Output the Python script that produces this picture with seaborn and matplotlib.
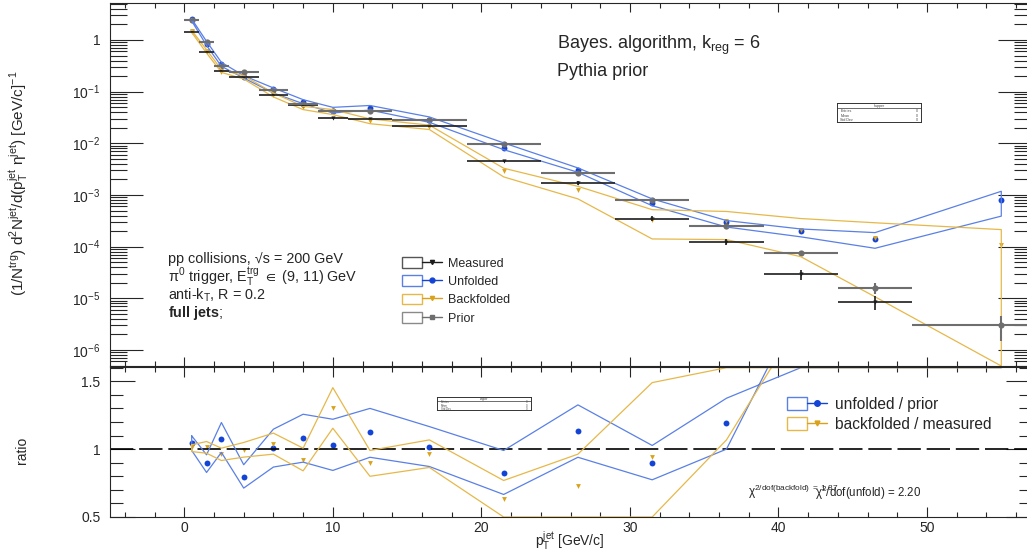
import numpy as np
import matplotlib
matplotlib.use("Agg")
import matplotlib.pyplot as plt
import seaborn as sns
from matplotlib.lines import Line2D
from matplotlib.patches import Rectangle
from matplotlib.legend_handler import HandlerTuple
from matplotlib.ticker import MultipleLocator, LogLocator, FuncFormatter, NullFormatter

# binning (GeV/c)
bin_edges = [0, 1, 2, 3, 5, 7, 9, 11, 14, 19, 24, 29, 34, 39, 44, 49, 61]
pt = [0.5, 1.5, 2.5, 4, 6, 8, 10, 12.5, 16.5, 21.5, 26.5, 31.5, 36.5, 41.5, 46.5, 55]

# spectra (upper panel)
measured = [1.45, 0.59, 0.255, 0.19, 0.0875, 0.054, 0.031, 0.030, 0.0213,
            4.57e-3, 1.73e-3, 3.5e-4, 1.24e-4, 2.9e-5, 8.4e-6, np.nan]
measured_err = [0.03, 0.012, 0.006, 0.004, 0.002, 0.0013, 0.0008, 0.0007, 0.0005,
                2.5e-4, 1.5e-4, 3.5e-5, 1.5e-5, 6e-6, 2.5e-6, np.nan]
prior = [2.4, 0.91, 0.32, 0.244, 0.11, 0.058, 0.0416, 0.043, 0.0279,
         9.7e-3, 2.67e-3, 7.9e-4, 2.48e-4, 7.4e-5, 1.6e-5, 3.0e-6]
prior_err = [0.05, 0.02, 0.008, 0.006, 0.003, 0.0015, 0.0012, 0.0012, 0.0008,
             4e-4, 1.5e-4, 6e-5, 2.5e-5, 9e-6, 4e-6, 1.5e-6]
unfolded = [2.5, 0.82, 0.345, 0.194, 0.111, 0.063, 0.0428, 0.0484, 0.0284,
            8.0e-3, 3.04e-3, 7.1e-4, 2.96e-4, 2.0e-4, 1.41e-4, 7.9e-4]
unfolded_hi = [2.55, 0.94, 0.369, 0.204, 0.118, 0.070, 0.0497, 0.054, 0.0324,
               0.0102, 3.34e-3, 8.4e-4, 3.2e-4, 2.2e-4, 1.87e-4, 1.18e-3]
unfolded_lo = [2.33, 0.787, 0.309, 0.184, 0.094, 0.0586, 0.0387, 0.044, 0.0255,
               7.55e-3, 2.75e-3, 6.2e-4, 2.4e-4, 1.55e-4, 9.3e-5, 3.9e-4]
backfolded = [1.47, 0.60, 0.245, 0.189, 0.091, 0.0497, 0.0405, 0.0269, 0.0206,
              2.88e-3, 1.25e-3, 3.3e-4, 3.2e-4, 2.14e-4, 1.5e-4, 1.07e-4]
backfolded_hi = [1.53, 0.65, 0.266, 0.204, 0.094, 0.052, 0.045, 0.0297, 0.0225,
                 3.3e-3, 1.47e-3, 5.2e-4, 4.8e-4, 3.5e-4, 2.9e-4, 2.14e-4]
backfolded_lo = [1.40, 0.56, 0.236, 0.176, 0.079, 0.045, 0.036, 0.024, 0.0185,
                 2.24e-3, 8.4e-4, 1.41e-4, 1.37e-4, 6.4e-5, 1.07e-5, 4.9e-7]

# ratios (lower panel)
ratio_unf = [1.044, 0.897, 1.076, 0.794, 1.007, 1.081, 1.029, 1.125, 1.019,
             0.824, 1.137, 0.90, 1.19, 2.7, 8.8, 263]
ratio_unf_hi = [1.098, 0.958, 1.196, 0.885, 1.147, 1.257, 1.22, 1.30, 1.166,
                0.99, 1.326, 1.027, 1.375, 1.6, 1.6, 1.6]
ratio_unf_lo = [0.99, 0.828, 0.976, 0.713, 0.868, 0.904, 0.843, 0.94, 0.872,
                0.666, 0.94, 0.774, 1.0, 2.08, 3.0, 3.0]
ratio_back = [1.012, 1.015, 0.963, 0.995, 1.039, 0.921, 1.306, 0.897, 0.965,
              0.632, 0.725, 0.941, 2.6, 7.4, 17.9, np.nan]
ratio_back_hi = [1.032, 1.056, 1.007, 1.049, 1.118, 1.007, 1.453, 0.99, 1.068,
                 0.769, 0.963, 1.49, 1.6, 1.6, 1.6, 1.6]
ratio_back_lo = [0.982, 0.97, 0.916, 0.941, 0.963, 0.84, 1.154, 0.80, 0.865,
                 0.5, 0.5, 0.5, 1.068, 1.95, 3.0, 3.0]

C_MEAS = "#1c1c1c"
C_PRIOR = "#6e6e6e"
C_UNF = "#1444d6"
C_UNF_L = "#5a80e6"
C_BACK = "#d9a21a"
C_BACK_L = "#e6b84a"

sns.set_theme(style="ticks")
plt.rcParams["font.family"] = ["Liberation Sans", "DejaVu Sans"]
plt.rcParams["mathtext.fontset"] = "custom"
plt.rcParams["mathtext.rm"] = "Liberation Sans"
plt.rcParams["mathtext.it"] = "Liberation Sans"
plt.rcParams["mathtext.bf"] = "Liberation Sans:bold"
plt.rcParams["mathtext.sf"] = "Liberation Sans"
plt.rcParams["mathtext.default"] = "regular"
plt.rcParams["axes.linewidth"] = 0.8

W, H = 1027, 556
fig = plt.figure(figsize=(W / 100, H / 100), dpi=100)
ax = fig.add_axes([110 / W, 1 - 366 / H, 921 / W, 363 / H])
axr = fig.add_axes([110 / W, 1 - 517 / H, 921 / W, 150 / H])

x = np.array(pt)
edges = np.array(bin_edges)
xerr = [x - edges[:-1], edges[1:] - x]


def draw_band(axis, lo, hi, color):
    # closed outline: upper edge left->right, lower edge right->left
    px = list(pt) + list(pt[::-1]) + [pt[0]]
    py = list(hi) + list(lo[::-1]) + [hi[0]]
    sns.lineplot(x=px, y=py, ax=axis, sort=False, estimator=None,
                 color=color, lw=0.9, legend=False)


# ---------------- upper panel ----------------
draw_band(ax, unfolded_lo, unfolded_hi, C_UNF_L)
draw_band(ax, backfolded_lo, backfolded_hi, C_BACK_L)

m = ~np.isnan(np.array(measured))
ax.errorbar(x[m], np.array(measured)[m],
            xerr=[xerr[0][m], xerr[1][m]], yerr=np.array(measured_err)[m],
            fmt="none", ecolor=C_MEAS, elinewidth=1.2, capsize=0)
ax.errorbar(x, prior, xerr=xerr, yerr=prior_err,
            fmt="none", ecolor=C_PRIOR, elinewidth=1.5, capsize=0)
sns.scatterplot(x=x[m], y=np.array(measured)[m], ax=ax, marker="v", s=9,
                color=C_MEAS, linewidth=0)
sns.scatterplot(x=pt, y=unfolded, ax=ax, marker="o", s=18, color=C_UNF, linewidth=0)
sns.scatterplot(x=pt, y=backfolded, ax=ax, marker="v", s=12, color=C_BACK, linewidth=0)
sns.scatterplot(x=pt, y=prior, ax=ax, marker="o", s=20, color=C_PRIOR, linewidth=0)

ax.set_yscale("log")
ax.set_xlim(-5, 57)
ax.set_ylim(4.9e-7, 5.2)
ax.set_xlabel("")
ax.set_ylabel("")
ax.xaxis.set_major_locator(MultipleLocator(10))
ax.xaxis.set_minor_locator(MultipleLocator(2))
ax.yaxis.set_major_locator(LogLocator(base=10, numticks=20))
ax.yaxis.set_minor_locator(LogLocator(base=10, subs=np.arange(2, 10), numticks=20))
ax.yaxis.set_minor_formatter(NullFormatter())
ax.yaxis.set_major_formatter(FuncFormatter(
    lambda v, p: "1" if abs(v - 1) < 1e-9 else r"$10^{%d}$" % int(round(np.log10(v)))))
ax.tick_params(axis="x", which="major", direction="in", length=6.5, width=0.8,
               top=True, bottom=True, labelbottom=False)
ax.tick_params(axis="x", which="minor", direction="in", length=3.3, width=0.8,
               top=True, bottom=True)
ax.tick_params(axis="y", which="major", direction="in", length=23.5, width=0.8,
               left=True, right=True, pad=7, labelsize=10)
ax.tick_params(axis="y", which="minor", direction="in", length=12, width=0.8,
               left=True, right=True)

# legend upper
hand = [
    (Rectangle((0, 0), 1, 1, fc="none", ec="#555555", lw=1.0),
     Line2D([], [], color=C_MEAS, marker="v", ms=3, lw=1.0)),
    (Rectangle((0, 0), 1, 1, fc="none", ec=C_UNF_L, lw=1.0),
     Line2D([], [], color=C_UNF, marker="o", ms=3.5, lw=1.0)),
    (Rectangle((0, 0), 1, 1, fc="none", ec=C_BACK_L, lw=1.0),
     Line2D([], [], color=C_BACK, marker="v", ms=3, lw=1.0)),
    (Rectangle((0, 0), 1, 1, fc="none", ec="#8a8a8a", lw=1.0),
     Line2D([], [], color=C_PRIOR, marker="s", ms=3, lw=1.0)),
]
ax.legend(hand, ["Measured", "Unfolded", "Backfolded", "Prior"],
          handler_map={tuple: HandlerTuple(ndivide=None, pad=0)},
          loc="upper left", bbox_to_anchor=((402 - 110) / 921, (366 - 257) / 363),
          frameon=False, fontsize=9, handlelength=3.2, handleheight=0.95,
          labelspacing=0.45, handletextpad=0.5, borderaxespad=0, borderpad=0)


# annotations
def ftext(px, py, s, **kw):
    fig.text(px / W, 1 - py / H, s, **kw)


ftext(557, 45, r"Bayes. algorithm, k$_{reg}$ = 6", fontsize=13, va="center")
ftext(557, 72, "Pythia prior", fontsize=13, va="center")
ftext(168, 259, "pp collisions, \u221As = 200 GeV", fontsize=10.4, va="center")
ftext(168, 277, r"$\pi^{0}$ trigger, E$_{T}^{trg}$ $\in$ (9, 11) GeV", fontsize=10.4, va="center")
ftext(168, 295, r"anti-k$_{T}$, R = 0.2", fontsize=10.4, va="center")
ftext(168, 313, r"$\mathbf{full\ jets}$;", fontsize=10.4, va="center")


def stats_box(px0, py0, pw, ph, fs):
    b = fig.add_axes([px0 / W, 1 - (py0 + ph) / H, pw / W, ph / H])
    b.set_xticks([])
    b.set_yticks([])
    for s in b.spines.values():
        s.set_linewidth(0.7)
        s.set_color("#333333")
    b.axhline(0.72, color="#333333", lw=0.5)
    b.text(0.5, 0.86, "hupper", ha="center", va="center", fontsize=fs, color="#444444")
    for i, lab in enumerate(["Entries", "Mean", "Std Dev"]):
        yy = 0.58 - i * 0.24
        b.text(0.04, yy, lab, ha="left", va="center", fontsize=fs, color="#444444")
        b.text(0.96, yy, "0", ha="right", va="center", fontsize=fs, color="#444444")


stats_box(837, 103, 84, 19, 2.6)
stats_box(437, 397, 94, 13, 2.0)

# ---------------- ratio panel ----------------
axr.axhline(1.0, color="black", lw=1.2, ls=(0, (14, 3.5)))
draw_band(axr, ratio_unf_lo, ratio_unf_hi, C_UNF_L)
draw_band(axr, ratio_back_lo, ratio_back_hi, C_BACK_L)
sns.scatterplot(x=pt, y=ratio_unf, ax=axr, marker="o", s=18, color=C_UNF, linewidth=0)
sns.scatterplot(x=pt, y=ratio_back, ax=axr, marker="v", s=12, color=C_BACK, linewidth=0)

axr.set_xlim(-5, 57)
axr.set_ylim(0.5, 1.605)
axr.set_xlabel("")
axr.set_ylabel("")
axr.xaxis.set_major_locator(MultipleLocator(10))
axr.xaxis.set_minor_locator(MultipleLocator(2))
axr.yaxis.set_major_locator(MultipleLocator(0.5))
axr.yaxis.set_minor_locator(MultipleLocator(0.1))
axr.yaxis.set_major_formatter(FuncFormatter(lambda v, p: "%g" % v))
axr.tick_params(axis="x", which="major", direction="in", length=7, width=0.8,
                top=True, bottom=True, pad=3, labelsize=10)
axr.tick_params(axis="x", which="minor", direction="in", length=3.6, width=0.8,
                top=True, bottom=True)
axr.tick_params(axis="y", which="major", direction="in", length=18, width=0.8,
                left=True, right=True, pad=7, labelsize=10)
axr.tick_params(axis="y", which="minor", direction="in", length=9, width=0.8,
                left=True, right=True)

hand_r = [
    (Rectangle((0, 0), 1, 1, fc="none", ec=C_UNF_L, lw=1.0),
     Line2D([], [], color=C_UNF, marker="o", ms=4, lw=1.0)),
    (Rectangle((0, 0), 1, 1, fc="none", ec=C_BACK_L, lw=1.0),
     Line2D([], [], color=C_BACK, marker="v", ms=3.5, lw=1.0)),
]
axr.legend(hand_r, ["unfolded / prior", "backfolded / measured"],
           handler_map={tuple: HandlerTuple(ndivide=None, pad=0)},
           loc="upper left", bbox_to_anchor=((787 - 110) / 921, (517 - 397) / 150),
           frameon=False, fontsize=11.2, handlelength=2.6, handleheight=0.9,
           labelspacing=0.3, handletextpad=0.5, borderaxespad=0, borderpad=0)

ftext(748, 492, r"$\chi^{2/dof(backfold)\ =\ 1.87}$", fontsize=8.5, va="center")
ftext(815, 493, r"$\chi^{2}$/dof(unfold) = 2.20", fontsize=8.3, va="center")

# axis titles
ftext(570, 541, r"p$_{T}^{jet}$ [GeV/c]", fontsize=10, ha="center", va="center")
ftext(22, 450, "ratio", fontsize=10, rotation=90, ha="center", va="center")
ftext(18, 183, r"(1/N$^{trg}$) d$^{2}$N$^{jet}$/d(p$_{T}^{jet}$ $\eta^{jet}$) [GeV/c]$^{-1}$",
      fontsize=11, rotation=90, ha="center", va="center")

fig.savefig("out.png", dpi=100)
